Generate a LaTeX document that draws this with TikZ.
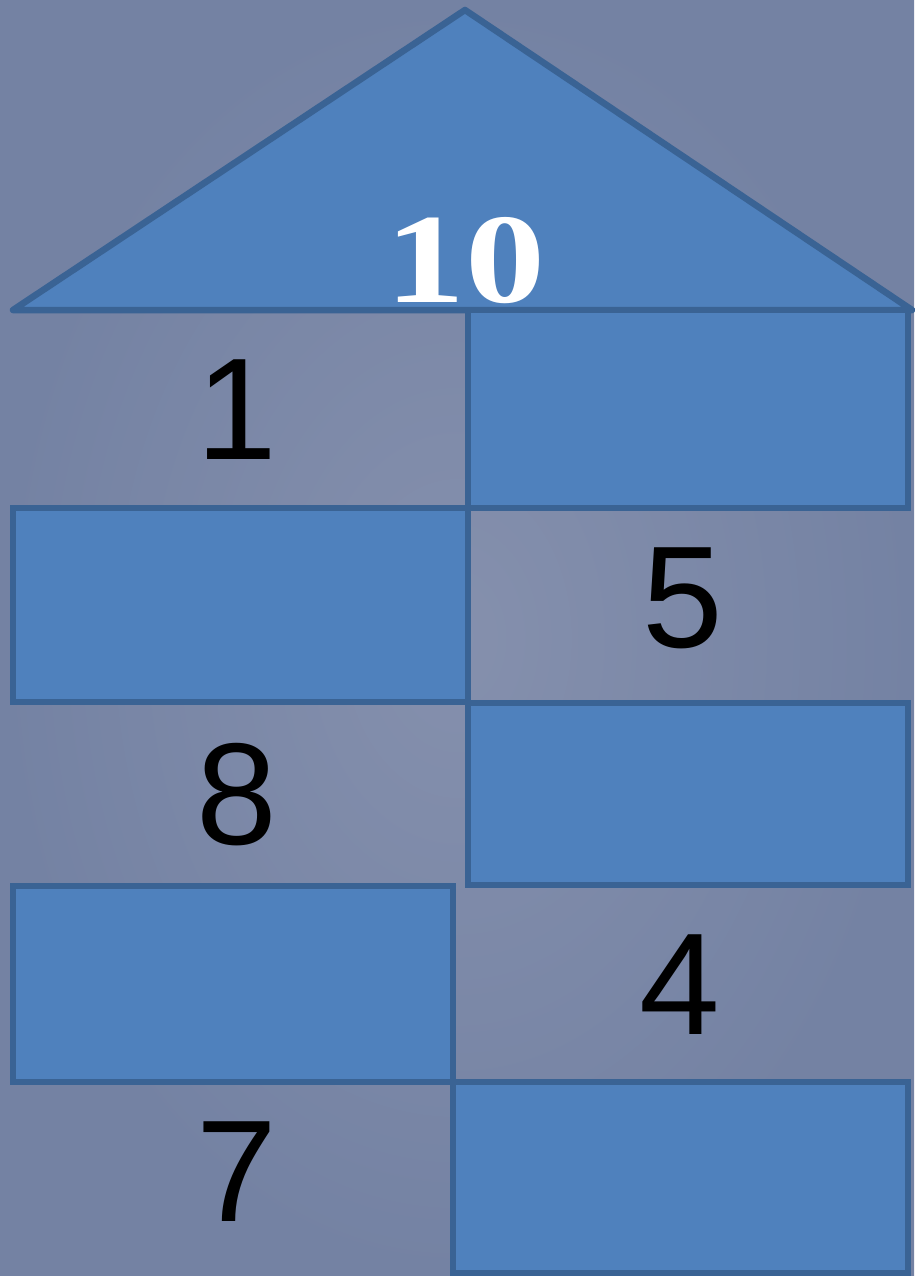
\documentclass[tikz,border=0pt]{standalone}
\usepackage{fontspec}
\setmainfont{Liberation Sans}
\newfontfamily\roofface{Liberation Serif}
\definecolor{BackBlue}{HTML}{8590AD}
\definecolor{BackEdge}{HTML}{7482A3}
\definecolor{BrickBlue}{HTML}{4F81BD}
\definecolor{BrickEdge}{HTML}{3A6394}
\usetikzlibrary{positioning}

\begin{document}
\begin{tikzpicture}[
  x=1pt,y=-1pt,
  brick/.style={draw=BrickEdge,fill=BrickBlue,line width=6.5pt,inner sep=0pt,outer sep=0pt},
  digit/.style={font=\fontsize{145}{150}\selectfont,text=black,inner sep=0pt}
]
% background
\shade[inner color=BackBlue,outer color=BackEdge] (0,0) rectangle (914,1276);
\useasboundingbox (0,0) rectangle (914,1276);
% roof
\draw[draw=BrickEdge,fill=BrickBlue,line width=6.5pt,line join=round] (13,310) -- (465,10) -- (912,310) -- cycle;
\node[inner sep=0pt,text=white,xscale=1.25,transform shape,font=\roofface\bfseries\fontsize{128}{135}\selectfont] (sum) at (465,261) {10};
% bricks
\node[brick,minimum width=440,minimum height=198] (r1) at (688,409) {};
\node[brick,minimum width=455,minimum height=194] (l2) at (240.5,605) {};
\node[brick,minimum width=440,minimum height=182] (r3) at (688,794) {};
\node[brick,minimum width=440,minimum height=196] (l4) at (233,984) {};
\node[brick,minimum width=455,minimum height=191] (r5) at (680.5,1177.5) {};
% given parts
\node[digit] (one) at (237,410) {1};
\node[digit] (five) at (683,598) {5};
\node[digit] (eight) at (237,795) {8};
\node[digit] (four) at (680,985) {4};
\node[digit] (seven) at (237,1172) {7};
\end{tikzpicture}
\end{document}
